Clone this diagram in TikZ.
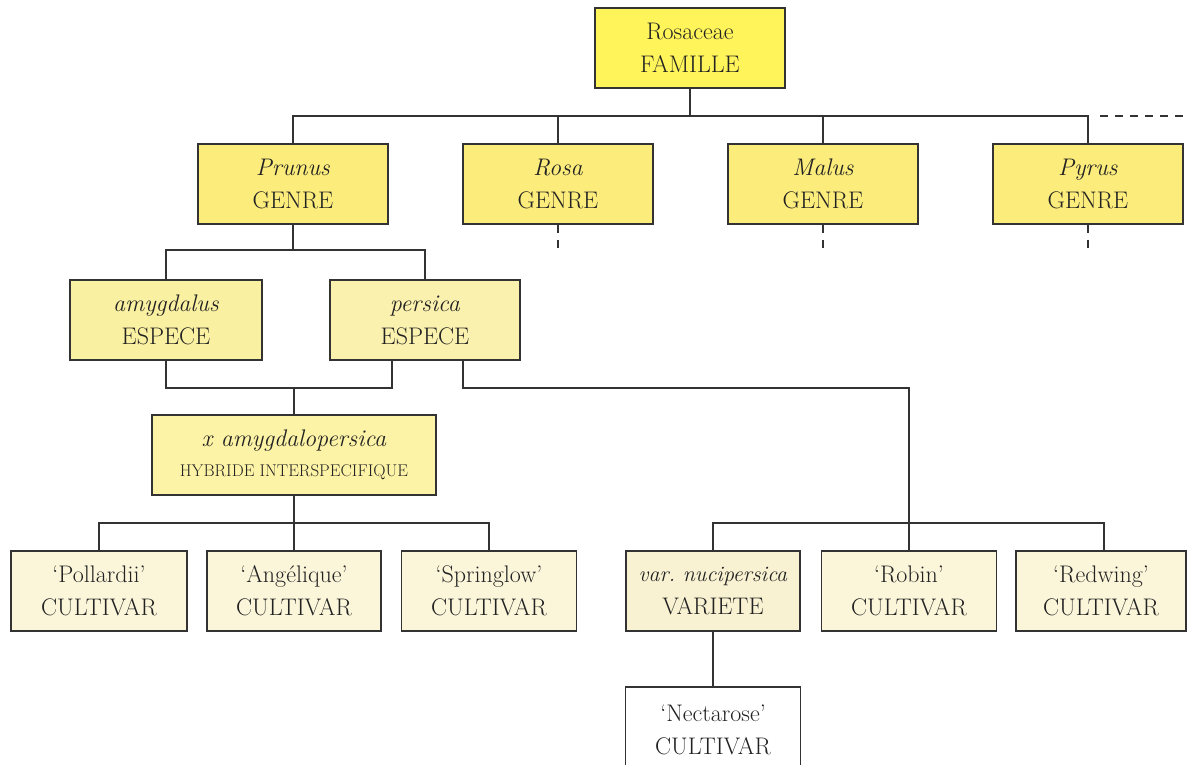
\documentclass[tikz,border=0pt]{standalone}
\usepackage{fontspec}
\definecolor{famyel}{HTML}{FFF45A}
\definecolor{genyel}{HTML}{FBEC7C}
\definecolor{spyel}{HTML}{FAF0A2}
\definecolor{spyelb}{HTML}{FAF1AE}
\definecolor{hybyel}{HTML}{FDF3A6}
\definecolor{cultcream}{HTML}{FBF6DA}
\definecolor{varcream}{HTML}{F8F2D2}
\definecolor{ink}{HTML}{333333}
\definecolor{txt}{HTML}{222222}
\begin{document}
\begin{tikzpicture}[x=1pt,y=-1pt,
  taxbox/.style={draw=ink, line width=1.6pt, text=txt, align=center,
    minimum height=80pt, inner sep=2pt,
    font=\fontsize{24}{33}\selectfont},
  link/.style={draw=ink, line width=1.6pt},
  stub/.style={draw=ink, line width=1.6pt, dash pattern=on 8pt off 7pt}]
\useasboundingbox (0,0) rectangle (1187,765);
% family
\node[taxbox, fill=famyel, minimum width=190pt] (fam) at (690,48) {Rosaceae\\FAMILLE};
% genera
\node[taxbox, fill=genyel, minimum width=190pt] (prunus) at (293,184) {\textit{Prunus}\\GENRE};
\node[taxbox, fill=genyel, minimum width=190pt] (rosa) at (558,184) {\textit{Rosa}\\GENRE};
\node[taxbox, fill=genyel, minimum width=190pt] (malus) at (823,184) {\textit{Malus}\\GENRE};
\node[taxbox, fill=genyel, minimum width=190pt] (pyrus) at (1088,184) {\textit{Pyrus}\\GENRE};
% species
\node[taxbox, fill=spyel, minimum width=192pt] (amyg) at (166,320) {\textit{amygdalus}\\ESPECE};
\node[taxbox, fill=spyelb, minimum width=190pt] (pers) at (425,320) {\textit{persica}\\ESPECE};
% hybrid
\node[taxbox, fill=hybyel, minimum width=284pt] (hyb) at (294,455)
  {\textit{x amygdalopersica}\\[-3pt]{\fontsize{17}{22}\selectfont HYBRIDE INTERSPECIFIQUE}};
% cultivars
\node[taxbox, fill=cultcream, minimum width=176pt] (poll) at (99,591) {‘Pollardii’\\CULTIVAR};
\node[taxbox, fill=cultcream, minimum width=174pt] (ange) at (294,591) {‘Angélique’\\CULTIVAR};
\node[taxbox, fill=cultcream, minimum width=175pt] (spring) at (489,591) {‘Springlow’\\CULTIVAR};
\node[taxbox, fill=varcream, minimum width=174pt] (var) at (713,591) {{\fontsize{22}{33}\selectfont\textit{var.\ nucipersica}}\\VARIETE};
\node[taxbox, fill=cultcream, minimum width=175pt] (robin) at (909,591) {‘Robin’\\CULTIVAR};
\node[taxbox, fill=cultcream, minimum width=170pt] (redw) at (1101,591) {‘Redwing’\\CULTIVAR};
\node[taxbox, fill=white, minimum width=175pt, minimum height=86pt] (nect) at (713,730) {‘Nectarose’\\CULTIVAR};
% helper coordinates
\coordinate (t1) at (690,116);
\coordinate (tend) at (1187,116);
\coordinate (t2) at (293,250);
\coordinate (t3) at (294,388);
\coordinate (t4) at (294,523);
\coordinate (t5) at (909,523);
% family -> genera
\draw[link] (fam.south) -- (t1);
\draw[link] (prunus.north) -- (prunus.north |- t1) -- (pyrus.north |- t1) -- (pyrus.north);
\draw[link] (rosa.north) -- (rosa.north |- t1);
\draw[link] (malus.north) -- (malus.north |- t1);
\draw[stub] (pyrus.north |- t1) ++(12,0) -- (tend);
\draw[stub] (rosa.south) -- ++(0,26);
\draw[stub] (malus.south) -- ++(0,26);
\draw[stub] (pyrus.south) -- ++(0,26);
% genus -> species
\draw[link] (prunus.south) -- (t2);
\draw[link] (amyg.north) -- (amyg.north |- t2) -- (pers.north |- t2) -- (pers.north);
% species -> hybrid
\draw[link] (amyg.south) -- (amyg.south |- t3) -- (392,388) -- (392,360);
\draw[link] (hyb.north |- t3) -- (hyb.north);
% persica -> right branch
\draw[link] (463,360) -- (463,388) -- (robin.north |- t3) -- (robin.north);
% hybrid -> cultivars
\draw[link] (hyb.south) -- (hyb.south |- t4);
\draw[link] (poll.north) -- (poll.north |- t4) -- (spring.north |- t4) -- (spring.north);
\draw[link] (ange.north) -- (ange.north |- t4);
% right cultivars
\draw[link] (var.north) -- (var.north |- t5) -- (1104,523) -- (1104,551);
% variete -> nectarose
\draw[link] (var.south) -- (nect.north);
\end{tikzpicture}
\end{document}
